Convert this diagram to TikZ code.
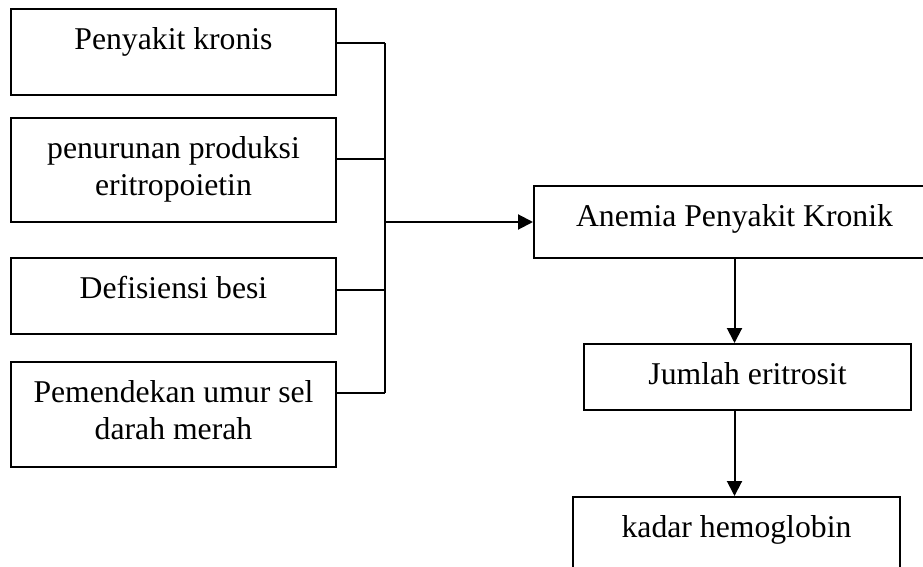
\documentclass[tikz,border=0pt]{standalone}
\usepackage{fontspec}
\setmainfont{Liberation Serif}
\usetikzlibrary{arrows.meta,positioning}

\tikzset{
  box/.style={draw, line width=2pt, inner sep=0pt},
  txt/.style={align=center, inner sep=0pt, font=\fontsize{31.7}{37}\selectfont},
  link/.style={line width=2pt},
  arr/.style={line width=2pt, -{Triangle[length=15pt,width=15pt]}}
}

\begin{document}
\begin{tikzpicture}[x=1pt,y=1pt]
    \useasboundingbox (0,0) rectangle (923,-567);
    % causes on the left
    \node[box, minimum width=325, minimum height=86] (kronis) at (173.5,-52) {};
    \node[txt, below=19pt of kronis.north] (kronis-t) {Penyakit kronis};
    \node[box, minimum width=325, minimum height=104] (produksi) at (173.5,-170) {};
    \node[txt, below=19pt of produksi.north] (produksi-t) {penurunan produksi\\eritropoietin};
    \node[box, minimum width=325, minimum height=76] (besi) at (173.5,-296) {};
    \node[txt, below=19pt of besi.north] (besi-t) {Defisiensi besi};
    \node[box, minimum width=325, minimum height=105] (umur) at (173.5,-414.5) {};
    \node[txt, below=19pt of umur.north] (umur-t) {Pemendekan umur sel\\darah merah};
    % bracket joining them
    \coordinate (bus-top) at (385,-43);
    \coordinate (bus-bot) at (385,-393);
    \coordinate (bus-mid) at (385,-222);
    \foreach \name/\y in {kronis/43, produksi/159, besi/290, umur/393}{
      \draw[link] (\name.east |- 0,-\y) -- (385,-\y);
    }
    \draw[link] (bus-top) -- (bus-bot);
    % chain on the right
    \node[box, minimum width=401, minimum height=72] (anemia) at (734.5,-222) {};
    \node[txt, below=19pt of anemia.north] (anemia-t) {Anemia Penyakit Kronik};
    \node[box, minimum width=327, minimum height=66] (jumlah) at (747.5,-377) {};
    \node[txt, below=19pt of jumlah.north] (jumlah-t) {Jumlah eritrosit};
    \node[box, minimum width=327, minimum height=80] (kadar) at (736.5,-537) {};
    \node[txt, below=19pt of kadar.north] (kadar-t) {kadar hemoglobin};
    \draw[arr] (bus-mid) -- (anemia);
    \draw[arr] (anemia.south) -- (anemia.south |- jumlah.north);
    \draw[arr] (anemia.south |- jumlah.south) -- (anemia.south |- kadar.north);
  \end{tikzpicture}
\end{document}
